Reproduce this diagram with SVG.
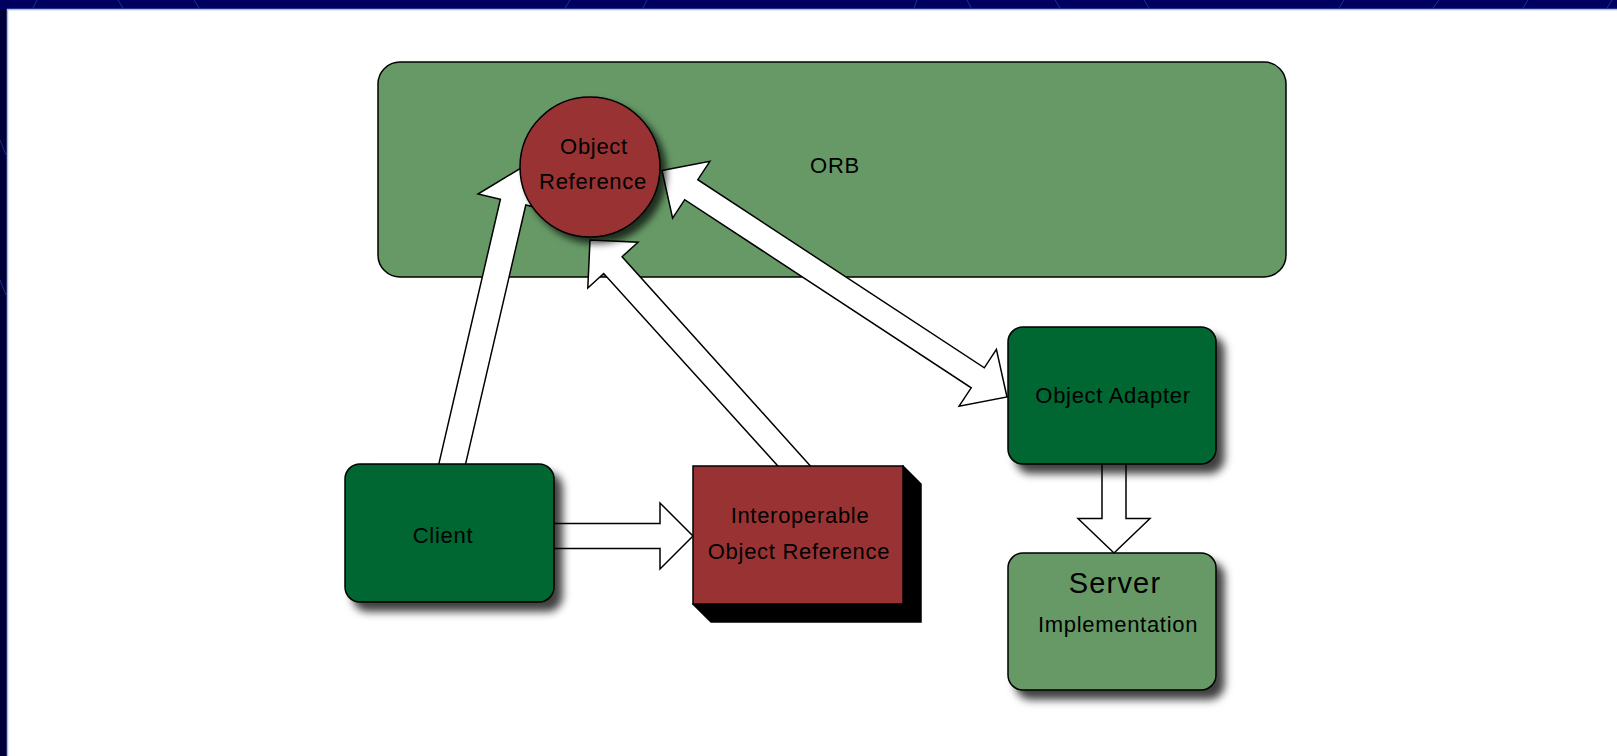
<svg xmlns="http://www.w3.org/2000/svg" width="1617" height="756" viewBox="0 0 1617 756">
  <style>
    .lbl { font-family: "Liberation Sans", Arial, sans-serif; font-size: 22px; fill: #000; text-anchor: middle; letter-spacing: 0.7px; }
    .big { font-size: 29px; letter-spacing: 1.2px; }
    .edge { fill: none; stroke: #000; stroke-width: 1.5; }
    .orb { fill: #669966; stroke: #000; stroke-width: 1.5; }
    .dark { fill: #006633; stroke: #000; stroke-width: 1.5; }
    .light { fill: #669966; stroke: #000; stroke-width: 1.5; }
    .red { fill: #993333; stroke: #000; stroke-width: 1.5; }
    .arrow { fill: #fff; stroke: #000; stroke-width: 1.5; stroke-linejoin: miter; }
    .frame-line { stroke: #2a50b8; stroke-width: 1; opacity: 0.6; fill: none; }
  </style>
  <defs>
    <filter id="soft" x="-20%" y="-20%" width="150%" height="150%">
      <feDropShadow dx="8" dy="9" stdDeviation="4" flood-color="#000" flood-opacity="0.75"/>
    </filter>
    <filter id="softRound" x="-20%" y="-20%" width="150%" height="150%">
      <feDropShadow dx="6" dy="6" stdDeviation="3.5" flood-color="#000" flood-opacity="0.7"/>
    </filter>
  </defs>

  <!-- slide frame -->
  <rect x="0" y="0" width="1617" height="756" fill="#000060"/>
  <rect x="0" y="9" width="7" height="747" fill="#000038"/>
  <path class="frame-line" d="M33 8 L37 0 M123 8 L118 0 M199 8 L194 0 M565 8 L570 0 M643 8 L647 0 M914 8 L917 0 M971 8 L967 0 M1060 8 L1055 0 M1149 8 L1144 0 M1339 8 L1344 0 M1433 8 L1439 0 M1523 8 L1528 0 M1607 8 L1612 0 M0 140 L6 155 M0 280 L6 295"/>
  <rect x="7" y="9" width="1610" height="747" fill="#ffffff"/>
  <path d="M7.5 756 V9.5 H1617" fill="none" stroke="#9cc0ff" stroke-width="1.5"/>

  <!-- ORB container -->
  <g id="orb">
    <rect class="orb" x="378" y="62" width="908" height="215" rx="22" ry="22"/>
    <text class="lbl" x="835" y="173">ORB</text>
  </g>

  <!-- block arrows -->
  <g id="connectors">
    <!-- Client to Object Reference -->
    <polygon class="arrow" points="438.1,467.1 500.4,199.2 478,194 521,168 548.2,210.3 525.8,205 463.5,472.9"/>
    <!-- Interoperable Object Reference to Object Reference -->
    <polygon class="arrow" points="781.5,470 603.7,273.5 587.8,288 590,240 638,242.2 622.1,256.7 814,470"/>
    <!-- Object Reference to/from Object Adapter -->
    <polygon class="arrow" points="662,170.5 709.9,161.3 697.8,179.7 984.3,367.8 996.4,349.4 1007,397 959.1,406.2 971.2,387.8 684.7,199.7 672.6,218.1"/>
    <!-- Client to Interoperable Object Reference -->
    <polygon class="arrow" points="548,523.5 660,523.5 660,503 693,536 660,569 660,548.5 548,548.5"/>
    <!-- Object Adapter to Server Implementation -->
    <polygon class="arrow" points="1102,458 1102,518.5 1078,518.5 1114,553 1150,518.5 1126,518.5 1126,458"/>
  </g>

  <g id="object-reference">
    <circle class="red" cx="590" cy="167" r="70" filter="url(#softRound)"/>
    <text class="lbl" x="594" y="154">Object</text>
    <text class="lbl" x="593" y="189">Reference</text>
  </g>

  <g id="client">
    <rect class="dark" x="345" y="464" width="209" height="138" rx="15" ry="15" filter="url(#soft)"/>
    <text class="lbl" x="443" y="543">Client</text>
  </g>

  <g id="interoperable-object-reference">
    <polygon points="903,466 921,484 921,622 711,622 693,604" fill="#000" stroke="#000" stroke-width="1.5"/>
    <rect class="red" x="693" y="466" width="210" height="138"/>
    <text class="lbl" x="800" y="523">Interoperable</text>
    <text class="lbl" x="799" y="559">Object Reference</text>
  </g>

  <g id="object-adapter">
    <rect class="dark" x="1008" y="327" width="208" height="137" rx="15" ry="15" filter="url(#soft)"/>
    <text class="lbl" x="1113" y="403">Object Adapter</text>
  </g>

  <g id="server-implementation">
    <rect class="light" x="1008" y="553" width="208" height="137" rx="15" ry="15" filter="url(#soft)"/>
    <text class="lbl big" x="1115" y="593">Server</text>
    <text class="lbl" x="1118" y="632">Implementation</text>
  </g>
</svg>
